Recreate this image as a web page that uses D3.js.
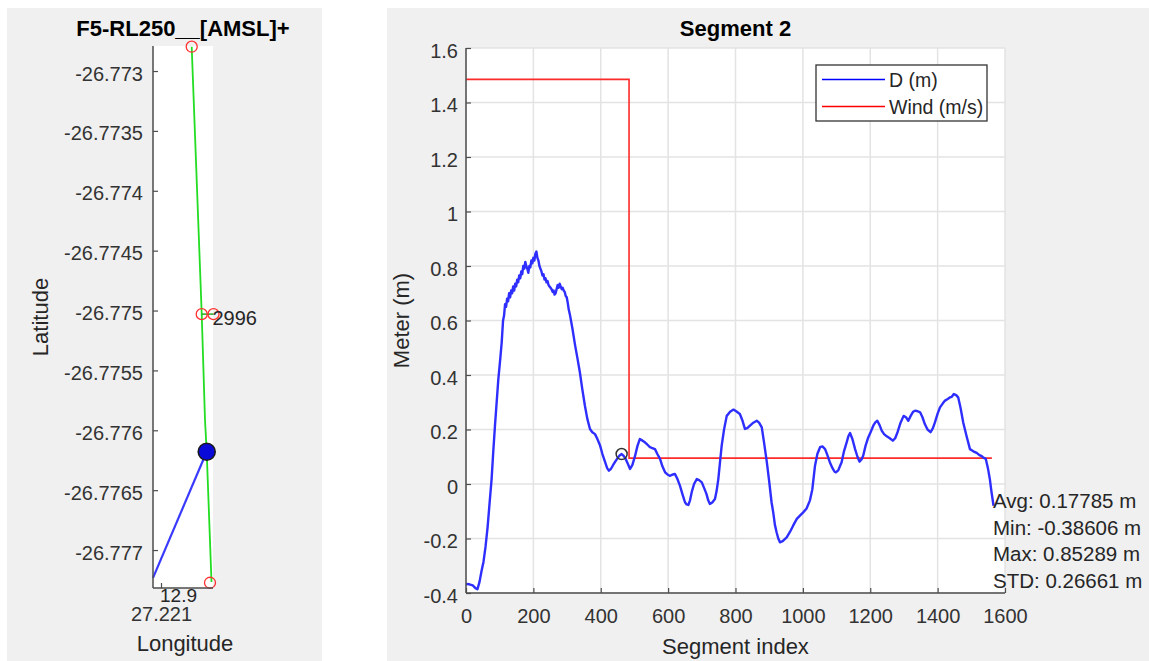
<!DOCTYPE html>
<html>
<head>
<meta charset="utf-8">
<script src="https://cdn.jsdelivr.net/npm/d3@7"></script>
<style>
  html, body { margin: 0; padding: 0; background: #ffffff; }
  svg { display: block; font-family: "Liberation Sans", Arial, Helvetica, sans-serif; }
</style>
</head>
<body>
<svg id="fig" width="1149" height="661"></svg>
<script>
// ---- Track map (left panel) ----
const mapTitle = "F5-RL250__[AMSL]+";
const lonLim = [27.22096, 27.22126];
const latLim = [-26.777317, -26.772791];
const latTicks = [-26.773, -26.7735, -26.774, -26.7745, -26.775, -26.7755, -26.776, -26.7765, -26.777];
const lonTicks = [27.221];
const lonTickLabels = ["27.221"];

// planned route (green) and its way-points (red circles)
const routeLon = [27.2211535, 27.2212035, 27.22122, 27.2212285, 27.2212525];
const routeLat = [-26.772797, -26.775025, -26.775914, -26.776179, -26.777267];
const wpLon = [27.2211535, 27.2212035, 27.2212625, 27.221245];
const wpLat = [-26.772797, -26.77503, -26.77503, -26.777273];
const wpLabel = "2996";
// current position and heading line (blue)
const posLon = 27.2212285, posLat = -26.776179;
const headLon = [27.22096, 27.2212285];
const headLat = [-26.777233, -26.776179];
const speedLabel = "12.9";

// ---- Segment profile (right panel) ----
const segTitle = "Segment 2";
const xTicks = [0, 200, 400, 600, 800, 1000, 1200, 1400, 1600];
const yTicks = [-0.4, -0.2, 0, 0.2, 0.4, 0.6, 0.8, 1, 1.2, 1.4, 1.6];

const segIdx = [0, 10, 20, 28, 34, 40, 46, 52, 58, 64, 70, 76, 81, 86, 91, 96, 101, 106, 110, 113,
  116, 119, 122, 125, 128, 131, 134, 137, 140, 143, 146, 149, 152, 155, 158, 161, 164, 167, 170, 173,
  176, 179, 182, 185, 188, 191, 194, 197, 200, 203, 206, 209, 212, 215, 218, 221, 224, 227, 230, 233,
  236, 239, 242, 245, 248, 251, 254, 257, 260, 263, 266, 269, 272, 275, 278, 281, 284, 287, 290, 293,
  296, 299, 302, 305, 309, 316, 324, 331, 338, 345, 353, 360, 368, 375, 383, 390, 398, 405, 413, 419,
  424, 430, 436, 442, 450, 456, 462, 468, 474, 480, 487, 494, 502, 509, 516, 523, 531, 538, 546, 553,
  561, 568, 576, 583, 591, 598, 605, 612, 620, 627, 635, 642, 650, 655, 660, 665, 670, 677, 685, 692,
  700, 707, 714, 719, 724, 731, 739, 744, 749, 754, 759, 766, 774, 784, 794, 803, 813, 820, 828, 835,
  843, 853, 863, 870, 878, 885, 893, 900, 907, 912, 917, 922, 927, 932, 940, 952, 962, 971, 982, 992,
  1001, 1011, 1021, 1028, 1036, 1043, 1051, 1058, 1066, 1073, 1080, 1088, 1094, 1098, 1105, 1110, 1115, 1122, 1130, 1135,
  1140, 1147, 1155, 1162, 1168, 1174, 1179, 1186, 1194, 1201, 1209, 1215, 1221, 1228, 1234, 1241, 1249, 1258, 1267, 1274,
  1281, 1290, 1299, 1306, 1313, 1320, 1327, 1333, 1341, 1348, 1355, 1362, 1370, 1379, 1386, 1392, 1400, 1407, 1415, 1422,
  1430, 1437, 1442, 1448, 1455, 1461, 1468, 1476, 1486, 1496, 1506, 1516, 1524, 1531, 1537, 1543, 1549, 1555, 1560, 1566];
const segD = [-0.367, -0.368, -0.372, -0.382, -0.386, -0.36, -0.32, -0.285, -0.23, -0.16, -0.07, 0.018, 0.12, 0.214, 0.30, 0.385, 0.45, 0.52, 0.60, 0.618,
  0.66, 0.65, 0.68, 0.67, 0.70, 0.685, 0.71, 0.70, 0.725, 0.71, 0.735, 0.725, 0.75, 0.74, 0.765, 0.755, 0.78, 0.77, 0.80, 0.79,
  0.815, 0.80, 0.79, 0.775, 0.80, 0.795, 0.82, 0.81, 0.83, 0.82, 0.845, 0.853, 0.83, 0.82, 0.80, 0.79, 0.78, 0.765, 0.77, 0.75,
  0.755, 0.74, 0.745, 0.73, 0.725, 0.72, 0.715, 0.705, 0.71, 0.695, 0.70, 0.715, 0.73, 0.72, 0.735, 0.725, 0.715, 0.72, 0.71, 0.705,
  0.69, 0.685, 0.665, 0.64, 0.618, 0.57, 0.508, 0.46, 0.41, 0.35, 0.287, 0.24, 0.202, 0.19, 0.183, 0.165, 0.141, 0.11, 0.08, 0.058,
  0.049, 0.055, 0.068, 0.08, 0.095, 0.105, 0.11, 0.103, 0.092, 0.075, 0.055, 0.07, 0.104, 0.14, 0.165, 0.16, 0.153, 0.145, 0.135, 0.132,
  0.128, 0.11, 0.092, 0.065, 0.043, 0.035, 0.03, 0.034, 0.037, 0.02, -0.006, -0.035, -0.067, -0.075, -0.077, -0.06, -0.03, 0.0, 0.018, 0.014,
  0.006, -0.015, -0.037, -0.06, -0.073, -0.068, -0.055, -0.025, 0.018, 0.08, 0.141, 0.2, 0.25, 0.265, 0.273, 0.266, 0.257, 0.235, 0.202, 0.205,
  0.214, 0.225, 0.232, 0.225, 0.208, 0.15, 0.08, 0.01, -0.067, -0.104, -0.15, -0.177, -0.2, -0.214, -0.21, -0.196, -0.175, -0.153, -0.128, -0.115,
  -0.104, -0.09, -0.06, -0.02, 0.067, 0.11, 0.135, 0.138, 0.128, 0.105, 0.08, 0.058, 0.045, 0.043, 0.05, 0.065, 0.08, 0.12, 0.153, 0.175,
  0.187, 0.165, 0.128, 0.1, 0.082, 0.09, 0.104, 0.14, 0.171, 0.19, 0.214, 0.226, 0.232, 0.215, 0.196, 0.183, 0.175, 0.168, 0.159, 0.168,
  0.19, 0.225, 0.25, 0.245, 0.232, 0.25, 0.265, 0.269, 0.267, 0.263, 0.245, 0.22, 0.2, 0.19, 0.205, 0.226, 0.258, 0.281, 0.295, 0.306,
  0.312, 0.318, 0.32, 0.33, 0.326, 0.318, 0.28, 0.226, 0.175, 0.128, 0.12, 0.114, 0.106, 0.102, 0.096, 0.092, 0.06, 0.018, -0.03, -0.08];

// wind speed held per section (step after each change)
const windIdx = [0, 484, 1561];
const windVal = [1.485, 0.095, 0.095];

// current sample marker
const curIdx = 462, curD = 0.11;

const statLines = ["Avg: 0.17785 m", "Min: -0.38606 m", "Max: 0.85289 m", "STD: 0.26661 m"];
const legendNames = ["D (m)", "Wind (m/s)"];
const legendColors = ["#0000ff", "#ff0000"];

// ---------------------------------------------------------------
const svg = d3.select("#fig");
const tickColor = "#333333";
const axisColor = "#4d4d4d";

svg.append("rect").attr("x", 0).attr("y", 0).attr("width", 1149).attr("height", 661).attr("fill", "#ffffff");
svg.append("rect").attr("x", 7).attr("y", 8).attr("width", 315).attr("height", 653).attr("fill", "#f0f0f0");
svg.append("rect").attr("x", 387).attr("y", 8).attr("width", 762).attr("height", 653).attr("fill", "#f0f0f0");

function styleAxis(g) {
  g.select(".domain").attr("stroke", axisColor).attr("stroke-width", 1.5);
  g.selectAll(".tick line").attr("stroke", axisColor).attr("stroke-width", 1.2);
  g.selectAll(".tick text").attr("fill", tickColor).style("font-size", "20px")
    .style("font-family", '"Liberation Sans", Arial, sans-serif');
}

// ===== left panel =====
{
  const L = { x0: 153, x1: 213, y0: 46, y1: 588 };
  const x = d3.scaleLinear().domain(lonLim).range([L.x0, L.x1]);
  const y = d3.scaleLinear().domain(latLim).range([L.y1, L.y0]);

  svg.append("rect").attr("x", L.x0).attr("y", L.y0).attr("width", L.x1 - L.x0).attr("height", L.y1 - L.y0).attr("fill", "#ffffff");

  const line = d3.line().x(d => x(d[0])).y(d => y(d[1]));
  const route = routeLon.map((v, i) => [v, routeLat[i]]);
  svg.append("path").attr("d", line(route)).attr("fill", "none").attr("stroke", "#22dd22").attr("stroke-width", 1.8);
  svg.append("path").attr("d", line([[wpLon[1], wpLat[1]], [wpLon[2], wpLat[2]]]))
    .attr("fill", "none").attr("stroke", "#22aa22").attr("stroke-width", 1.5);

  const head = headLon.map((v, i) => [v, headLat[i]]);
  svg.append("path").attr("d", line(head)).attr("fill", "none").attr("stroke", "#3a3aff").attr("stroke-width", 2.2);

  svg.selectAll("circle.wp").data(wpLon.map((v, i) => [v, wpLat[i]])).enter().append("circle")
    .attr("class", "wp").attr("cx", d => x(d[0])).attr("cy", d => y(d[1])).attr("r", 5.5)
    .attr("fill", "none").attr("stroke", "#ff3030").attr("stroke-width", 1.3);

  svg.append("circle").attr("cx", x(posLon)).attr("cy", y(posLat)).attr("r", 8.5)
    .attr("fill", "#0a0ad8").attr("stroke", "#1a1a1a").attr("stroke-width", 1.6);

  svg.append("text").attr("x", x(wpLon[2]) - 1).attr("y", y(wpLat[2]) + 11)
    .attr("fill", "#262626").style("font-size", "20px").text(wpLabel);

  const gy = svg.append("g").attr("transform", `translate(${L.x0},0)`)
    .call(d3.axisLeft(y).tickValues(latTicks).tickFormat(d => String(d)).tickSizeInner(-5).tickSizeOuter(0).tickPadding(10));
  gy.selectAll(".tick text").attr("dy", "0.45em");
  styleAxis(gy);
  gy.select(".domain").attr("d", `M0,${L.y0}V${L.y1}`);

  const gx = svg.append("g").attr("transform", `translate(0,${L.y1})`)
    .call(d3.axisBottom(x).tickValues(lonTicks).tickFormat((d, i) => lonTickLabels[i]).tickSizeInner(-5).tickSizeOuter(0).tickPadding(19));
  styleAxis(gx);
  gx.select(".domain").attr("d", `M${L.x0},0H${L.x1}`);

  svg.append("text").attr("x", x(lonTicks[0]) - 1).attr("y", 602)
    .attr("fill", "#262626").style("font-size", "19px").text(speedLabel);

  svg.append("text").attr("x", (L.x0 + L.x1) / 2).attr("y", 36).attr("text-anchor", "middle")
    .attr("fill", "#000").style("font-size", "22px").style("font-weight", "bold").text(mapTitle);
  svg.append("text").attr("x", (L.x0 + L.x1) / 2 + 2).attr("y", 651).attr("text-anchor", "middle")
    .attr("fill", "#262626").style("font-size", "22px").text("Longitude");
  svg.append("text").attr("transform", `translate(48,${(L.y0 + L.y1) / 2}) rotate(-90)`).attr("text-anchor", "middle")
    .attr("fill", "#262626").style("font-size", "22px").text("Latitude");
}

// ===== right panel =====
{
  const R = { x0: 466, x1: 1005, y0: 48, y1: 593 };
  const x = d3.scaleLinear().domain([0, 1600]).range([R.x0, R.x1]);
  const y = d3.scaleLinear().domain([-0.4, 1.6]).range([R.y1, R.y0]);

  svg.append("rect").attr("x", R.x0).attr("y", R.y0).attr("width", R.x1 - R.x0).attr("height", R.y1 - R.y0).attr("fill", "#ffffff");

  // grid
  const grid = svg.append("g");
  grid.selectAll("line.gx").data(xTicks).enter().append("line")
    .attr("x1", d => x(d)).attr("x2", d => x(d)).attr("y1", R.y0).attr("y2", R.y1)
    .attr("stroke", "#e3e3e3").attr("stroke-width", 1.5);
  grid.selectAll("line.gy").data(yTicks).enter().append("line")
    .attr("x1", R.x0).attr("x2", R.x1).attr("y1", d => y(d)).attr("y2", d => y(d))
    .attr("stroke", "#e3e3e3").attr("stroke-width", 1.5);

  // wind (stairs)
  const windPts = windIdx.map((v, i) => [v, windVal[i]]);
  svg.append("path").attr("d", d3.line().curve(d3.curveStepAfter).x(d => x(d[0])).y(d => y(d[1]))(windPts))
    .attr("fill", "none").attr("stroke", "#ff2a2a").attr("stroke-width", 1.6);

  // displacement
  const segPts = segIdx.map((v, i) => [v, segD[i]]);
  svg.append("path").attr("d", d3.line().x(d => x(d[0])).y(d => y(d[1]))(segPts))
    .attr("fill", "none").attr("stroke", "#2e2eff").attr("stroke-width", 2.4).attr("stroke-linejoin", "round");

  svg.append("circle").attr("cx", x(curIdx)).attr("cy", y(curD)).attr("r", 5.5)
    .attr("fill", "none").attr("stroke", "#333").attr("stroke-width", 1.5);

  const gy = svg.append("g").attr("transform", `translate(${R.x0},0)`)
    .call(d3.axisLeft(y).tickValues(yTicks).tickFormat(d => String(d)).tickSizeInner(-5).tickSizeOuter(0).tickPadding(8));
  gy.selectAll(".tick text").attr("dy", "0.45em");
  styleAxis(gy);
  gy.select(".domain").attr("d", `M0,${R.y0}V${R.y1}`);

  const gx = svg.append("g").attr("transform", `translate(0,${R.y1})`)
    .call(d3.axisBottom(x).tickValues(xTicks).tickFormat(d => String(d)).tickSizeInner(-5).tickSizeOuter(0).tickPadding(16));
  styleAxis(gx);
  gx.select(".domain").attr("d", `M${R.x0},0H${R.x1}`);

  svg.append("text").attr("x", (R.x0 + R.x1) / 2).attr("y", 36).attr("text-anchor", "middle")
    .attr("fill", "#000").style("font-size", "22px").style("font-weight", "bold").text(segTitle);
  svg.append("text").attr("x", (R.x0 + R.x1) / 2).attr("y", 654).attr("text-anchor", "middle")
    .attr("fill", "#262626").style("font-size", "22px").text("Segment index");
  svg.append("text").attr("transform", `translate(409,${(R.y0 + R.y1) / 2}) rotate(-90)`).attr("text-anchor", "middle")
    .attr("fill", "#262626").style("font-size", "22px").text("Meter (m)");

  // legend
  const lg = svg.append("g");
  lg.append("rect").attr("x", 816).attr("y", 65).attr("width", 171).attr("height", 56)
    .attr("fill", "#ffffff").attr("stroke", "#333").attr("stroke-width", 1.3);
  legendNames.forEach((n, i) => {
    const yy = 79.5 + i * 27;
    lg.append("line").attr("x1", 822).attr("x2", 885).attr("y1", yy).attr("y2", yy)
      .attr("stroke", legendColors[i]).attr("stroke-width", 1.3);
    lg.append("text").attr("x", 889).attr("y", yy + 7).attr("fill", "#262626").style("font-size", "19.5px").text(n);
  });

  // statistics
  const st = svg.append("g");
  statLines.forEach((s, i) => {
    st.append("text").attr("x", 993).attr("y", 508 + i * 26.7).attr("fill", "#262626").style("font-size", "20.5px").text(s);
  });
}
</script>
</body>
</html>
